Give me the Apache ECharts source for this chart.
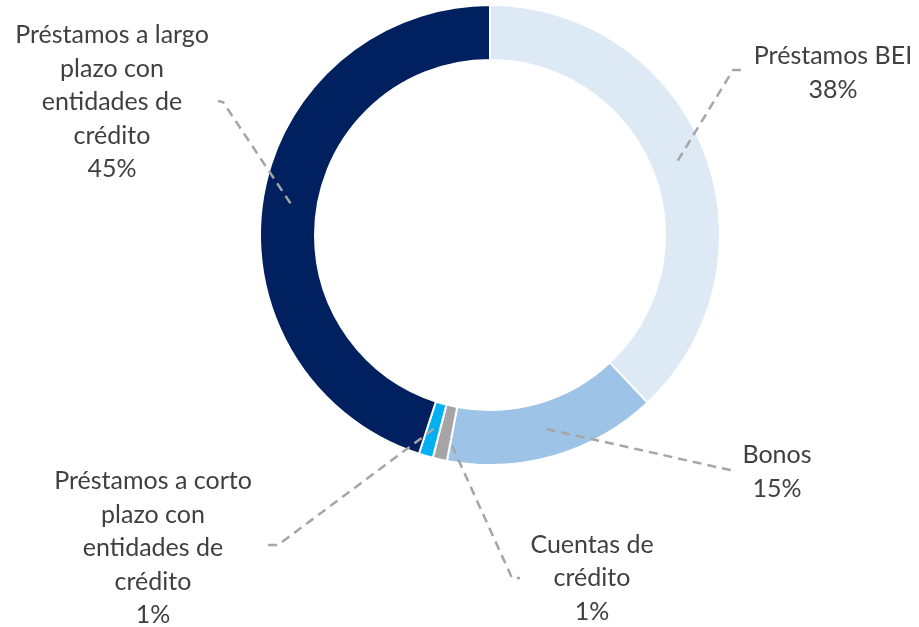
<!DOCTYPE html>
<html>
<head>
<meta charset="utf-8">
<script src="https://cdn.jsdelivr.net/npm/echarts@6/dist/echarts.min.js"></script>
<style>
  html, body { margin: 0; padding: 0; background: #fff; }
  #chart { width: 919px; height: 627px; }
</style>
</head>
<body>
<div id="chart"></div>
<script>
// data
const categories = [
  'Préstamos BEI',
  'Bonos',
  'Cuentas de\ncrédito',
  'Préstamos a corto\nplazo con\nentidades de\ncrédito',
  'Préstamos a largo\nplazo con\nentidades de\ncrédito'
]
const values = [38, 15, 1, 1, 45]
const colors = ['#dde9f5', '#9dc3e6', '#a5a5a5', '#00b0f0', '#002060']

// label centres and leader line elbows / ends (layout only)
const labelPos = [
  { x: 833, y: 73, elbow: [733, 70], end: [743, 70] },
  { x: 777, y: 472, elbow: [730, 470], end: [732, 470] },
  { x: 592, y: 578, elbow: [512, 578], end: [520, 578] },
  { x: 153, y: 548, elbow: [278, 545], end: [266, 545] },
  { x: 112, y: 102, elbow: [223, 102], end: [218, 101] }
]

const chart = echarts.init(document.getElementById('chart'))

const pieData = categories.map((name, i) => ({
  name: name,
  value: values[i],
  itemStyle: { color: colors[i] }
}))

chart.setOption({
  animation: false,
  series: [
    {
      type: 'pie',
      z: 1,
      center: [490, 235],
      radius: [175, 230],
      startAngle: 90,
      clockwise: true,
      silent: true,
      avoidLabelOverlap: false,
      itemStyle: { borderColor: '#fff', borderWidth: 2 },
      label: { show: false },
      labelLine: { show: false },
      data: pieData
    },
    {
      // invisible pie at ring middle, carries labels and leader lines
      type: 'pie',
      z: 5,
      center: [490, 235],
      radius: [0, 202],
      startAngle: 90,
      clockwise: true,
      silent: true,
      avoidLabelOverlap: false,
      itemStyle: { color: 'rgba(0,0,0,0)', borderWidth: 0 },
      label: {
        show: true,
        position: 'outside',
        formatter: '{b}\n{d}%',
        fontFamily: 'Lato',
        fontSize: 25,
        lineHeight: 33.5,
        color: '#404040',
        align: 'center'
      },
      labelLine: {
        show: true,
        length: 10,
        length2: 10,
        lineStyle: { color: '#a6a6a6', width: 2.5, type: [9, 6] }
      },
      labelLayout: (params) => {
        const p = labelPos[params.dataIndex]
        const start = params.labelLinePoints ? params.labelLinePoints[0] : p.elbow
        return {
          x: p.x,
          y: p.y,
          align: 'center',
          verticalAlign: 'middle',
          labelLinePoints: [start, p.elbow, p.end]
        }
      },
      data: categories.map((name, i) => ({ name: name, value: values[i] }))
    }
  ]
})
</script>
</body>
</html>
